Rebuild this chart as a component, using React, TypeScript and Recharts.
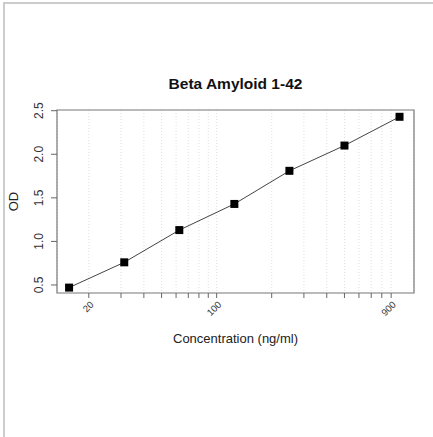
import React from 'react';
import {
  ComposedChart,
  Line,
  XAxis,
  YAxis,
  CartesianGrid,
  ReferenceArea
} from 'recharts';

// standard curve: concentration (ng/ml) vs OD
const concentrations = [15.6, 31.25, 62.5, 125, 250, 500, 1000];
const odValues = [0.47, 0.76, 1.13, 1.43, 1.81, 2.1, 2.43];

const xTicks = [20, 30, 40, 50, 60, 70, 80, 90, 100, 200, 300, 400, 500, 600, 700, 800, 900];
const xLabelled = [20, 100, 900];
const yTicks = [0.5, 1.0, 1.5, 2.0, 2.5];

const X_DOMAIN: [number, number] = [13.4, 1200];
const Y_DOMAIN: [number, number] = [0.408, 2.508];

const data = concentrations.map((c, i) => ({ conc: c, od: odValues[i] }));

const FONT = '"Liberation Sans", Arial, sans-serif';

const SquareDot = (props: any) => {
  const { cx, cy } = props;
  if (cx == null || cy == null) return null;
  return <rect x={cx - 4} y={cy - 4} width={8} height={8} fill="#000" />;
};

const XTick = (props: any) => {
  const { x, y, payload } = props;
  if (!xLabelled.includes(payload.value)) return null;
  const ax = x + 3;
  const ay = y + 3;
  return (
    <text
      x={ax}
      y={ay}
      dy="0.35em"
      textAnchor="end"
      fontSize={9.5}
      fill="#333"
      fontFamily={FONT}
      transform={`rotate(-45 ${ax} ${ay})`}
    >
      {payload.value}
    </text>
  );
};

const YTick = (props: any) => {
  const { x, y, payload } = props;
  const ax = x - 10;
  return (
    <text
      x={ax}
      y={y}
      dy="0.35em"
      textAnchor="middle"
      fontSize={12}
      fill="#333"
      fontFamily={FONT}
      transform={`rotate(-90 ${ax} ${y})`}
    >
      {payload.value.toFixed(1)}
    </text>
  );
};

const App: React.FC = () => {
  return (
    <div style={{ position: 'absolute', left: 0, top: 0, width: 433, height: 437, background: '#fff' }}>
      {/* frame lines of the original screenshot */}
      <div style={{ position: 'absolute', left: 3, top: 2, width: 2, height: 435, background: '#cccccc' }} />
      <div style={{ position: 'absolute', left: 3, top: 2, width: 430, height: 2, background: '#cccccc' }} />
      <div
        style={{
          position: 'absolute',
          left: 57,
          width: 357,
          top: 75,
          textAlign: 'center',
          fontFamily: FONT,
          fontWeight: 'bold',
          fontSize: 15.5,
          color: '#111'
        }}
      >
        Beta Amyloid 1-42
      </div>
      <ComposedChart
        width={433}
        height={437}
        data={data}
        margin={{ top: 110, right: 19, bottom: 104, left: 10 }}
        style={{ position: 'absolute', left: 0, top: 0 }}
      >
        <CartesianGrid vertical horizontal={false} stroke="#e0e0e0" strokeDasharray="1 2" />
        <XAxis
          dataKey="conc"
          type="number"
          scale="log"
          domain={X_DOMAIN}
          ticks={xTicks}
          allowDataOverflow
          height={40}
          tickSize={5}
          tickMargin={2}
          axisLine={false}
          tickLine={{ stroke: '#666' }}
          tick={<XTick />}
          interval={0}
          label={{
            value: 'Concentration (ng/ml)',
            position: 'insideBottom',
            offset: -10,
            fontSize: 13,
            fill: '#222',
            fontFamily: FONT
          }}
        />
        <YAxis
          type="number"
          domain={Y_DOMAIN}
          ticks={yTicks}
          allowDataOverflow
          width={47}
          tickSize={6}
          tickMargin={2}
          axisLine={false}
          tickLine={{ stroke: '#666' }}
          tick={<YTick />}
          interval={0}
          label={{
            value: 'OD',
            angle: -90,
            position: 'insideLeft',
            offset: 3,
            fontSize: 13,
            fill: '#222',
            fontFamily: FONT,
            style: { textAnchor: 'middle' }
          }}
        />
        <ReferenceArea
          x1={X_DOMAIN[0]}
          x2={X_DOMAIN[1]}
          y1={Y_DOMAIN[0]}
          y2={Y_DOMAIN[1]}
          fill="none"
          stroke="#777"
          strokeWidth={1.2}
        />
        <Line
          dataKey="od"
          type="linear"
          stroke="#444"
          strokeWidth={1}
          dot={<SquareDot />}
          activeDot={false}
          isAnimationActive={false}
        />
      </ComposedChart>
    </div>
  );
};

export default App;
